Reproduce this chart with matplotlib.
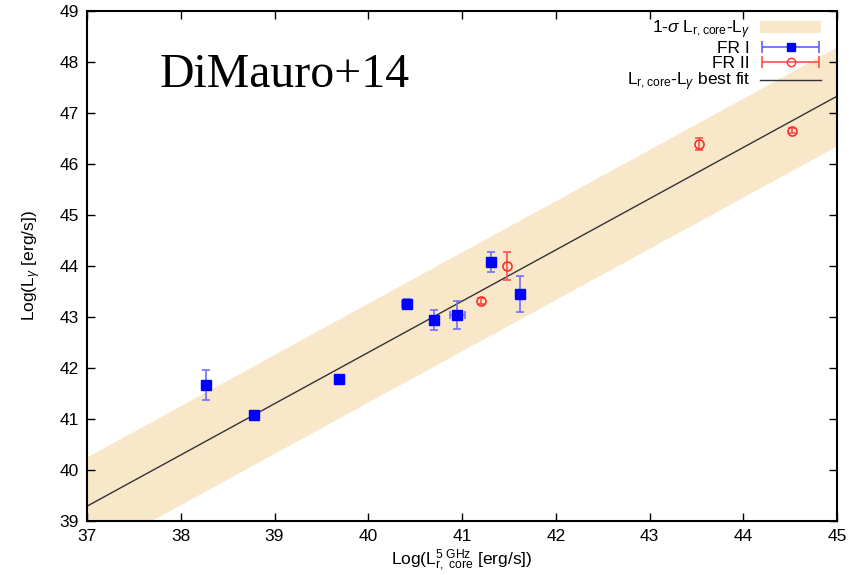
import numpy as np
import matplotlib
matplotlib.use("Agg")
import matplotlib.pyplot as plt
from matplotlib.patches import Patch
from matplotlib.lines import Line2D
from matplotlib.container import ErrorbarContainer
from matplotlib.legend_handler import HandlerErrorbar

plt.rcParams["font.family"] = ["Liberation Sans", "DejaVu Sans"]
plt.rcParams["mathtext.fontset"] = "custom"
plt.rcParams["mathtext.rm"] = "Liberation Sans"
plt.rcParams["mathtext.it"] = "Liberation Sans:italic"

# FR I sources
fr1_x = [38.27, 38.78, 39.69, 40.41, 40.70, 40.95, 41.31, 41.62]
fr1_y = [41.67, 41.07, 41.79, 43.26, 42.94, 43.04, 44.08, 43.45]
fr1_yerr = [0.29, 0.04, 0.06, 0.10, 0.20, 0.28, 0.20, 0.35]
fr1_xerr = [0.0, 0.0, 0.0, 0.05, 0.0, 0.08, 0.0, 0.0]

# FR II sources
fr2_x = [41.20, 41.48, 43.53, 44.52]
fr2_y = [43.32, 44.00, 46.39, 46.65]
fr2_yerr = [0.06, 0.28, 0.12, 0.05]

# best fit and 1-sigma band
fit_intercept = 39.29
fit_slope = 1.005
band_width = 0.97

band_col = "#f9e7ca"
fig = plt.figure(figsize=(8.63, 5.75), dpi=100)
ax = fig.add_axes([0.1008, 0.0939, 0.8692, 0.887])

xx = np.linspace(37, 45, 50)
yy = fit_intercept + fit_slope * (xx - 37)
ax.fill_between(xx, yy - band_width, yy + band_width, color=band_col, lw=0, zorder=1)
ax.plot(xx, yy, color="#333333", lw=1.0, zorder=2)

ax.errorbar(fr1_x, fr1_y, yerr=fr1_yerr, xerr=fr1_xerr, fmt="none",
            ecolor="#7070ff", elinewidth=1.2, capsize=3, capthick=1.2, zorder=3)
ax.plot(fr1_x, fr1_y, "s", color="#0000ff", ms=6.5, zorder=4)

ax.errorbar(fr2_x, fr2_y, yerr=fr2_yerr, fmt="none",
            ecolor="#ff5050", elinewidth=1.2, capsize=3, capthick=1.2, zorder=3)
ax.plot(fr2_x, fr2_y, "o", mfc="none", mec="#ff3030", mew=1.2, ms=6.5, zorder=4)

# legend-only handles (horizontal bar with caps, as in gnuplot keys)
h_fr1 = ax.errorbar([np.nan], [np.nan], xerr=[1], fmt="s", color="#0000ff", ms=6,
                    ecolor="#6060ff", elinewidth=1.2, capsize=4, capthick=1.2)
h_fr2 = ax.errorbar([np.nan], [np.nan], xerr=[1], fmt="o", mfc="none", mec="#ff3030",
                    ms=6, ecolor="#ff5050", elinewidth=1.2, capsize=4, capthick=1.2)

ax.set_xlim(37, 45)
ax.set_ylim(39, 49)
ax.set_xticks(range(37, 46))
ax.set_yticks(range(39, 50))
ax.tick_params(direction="in", length=6, width=1, top=True, right=True,
               labelsize=12.5, pad=6)
for s in ax.spines.values():
    s.set_linewidth(1.5)

ax.set_xlabel(r"Log(L$^{\rm 5\ GHz}_{\rm r,\ core}$ [erg/s])", fontsize=12.5, labelpad=2)
ax.set_ylabel(r"Log(L$_{\gamma}$ [erg/s])", fontsize=12.5, labelpad=12)

ax.text(0.097, 0.875, "DiMauro+14", transform=ax.transAxes, fontsize=34.5,
        family="Liberation Serif", va="center", ha="left")

handles = [
    Patch(facecolor=band_col, edgecolor="none"),
    h_fr1,
    h_fr2,
    Line2D([0], [0], color="#333333", lw=1.0),
]
labels = [
    r"1-$\sigma$ L$_{\rm r,core}$-L$_{\gamma}$",
    "FR I",
    "FR II",
    r"L$_{\rm r,core}$-L$_{\gamma}$ best fit",
]
ax.legend(handles, labels, loc="upper right", bbox_to_anchor=(0.988, 1.0),
          frameon=False, markerfirst=False,
          fontsize=12.5, handlelength=3.5, labelspacing=0.0, borderaxespad=0.1,
          handletextpad=0.6, borderpad=0.3,
          handler_map={ErrorbarContainer: HandlerErrorbar(xerr_size=1.65)})

fig.savefig("out.png", dpi=100)
